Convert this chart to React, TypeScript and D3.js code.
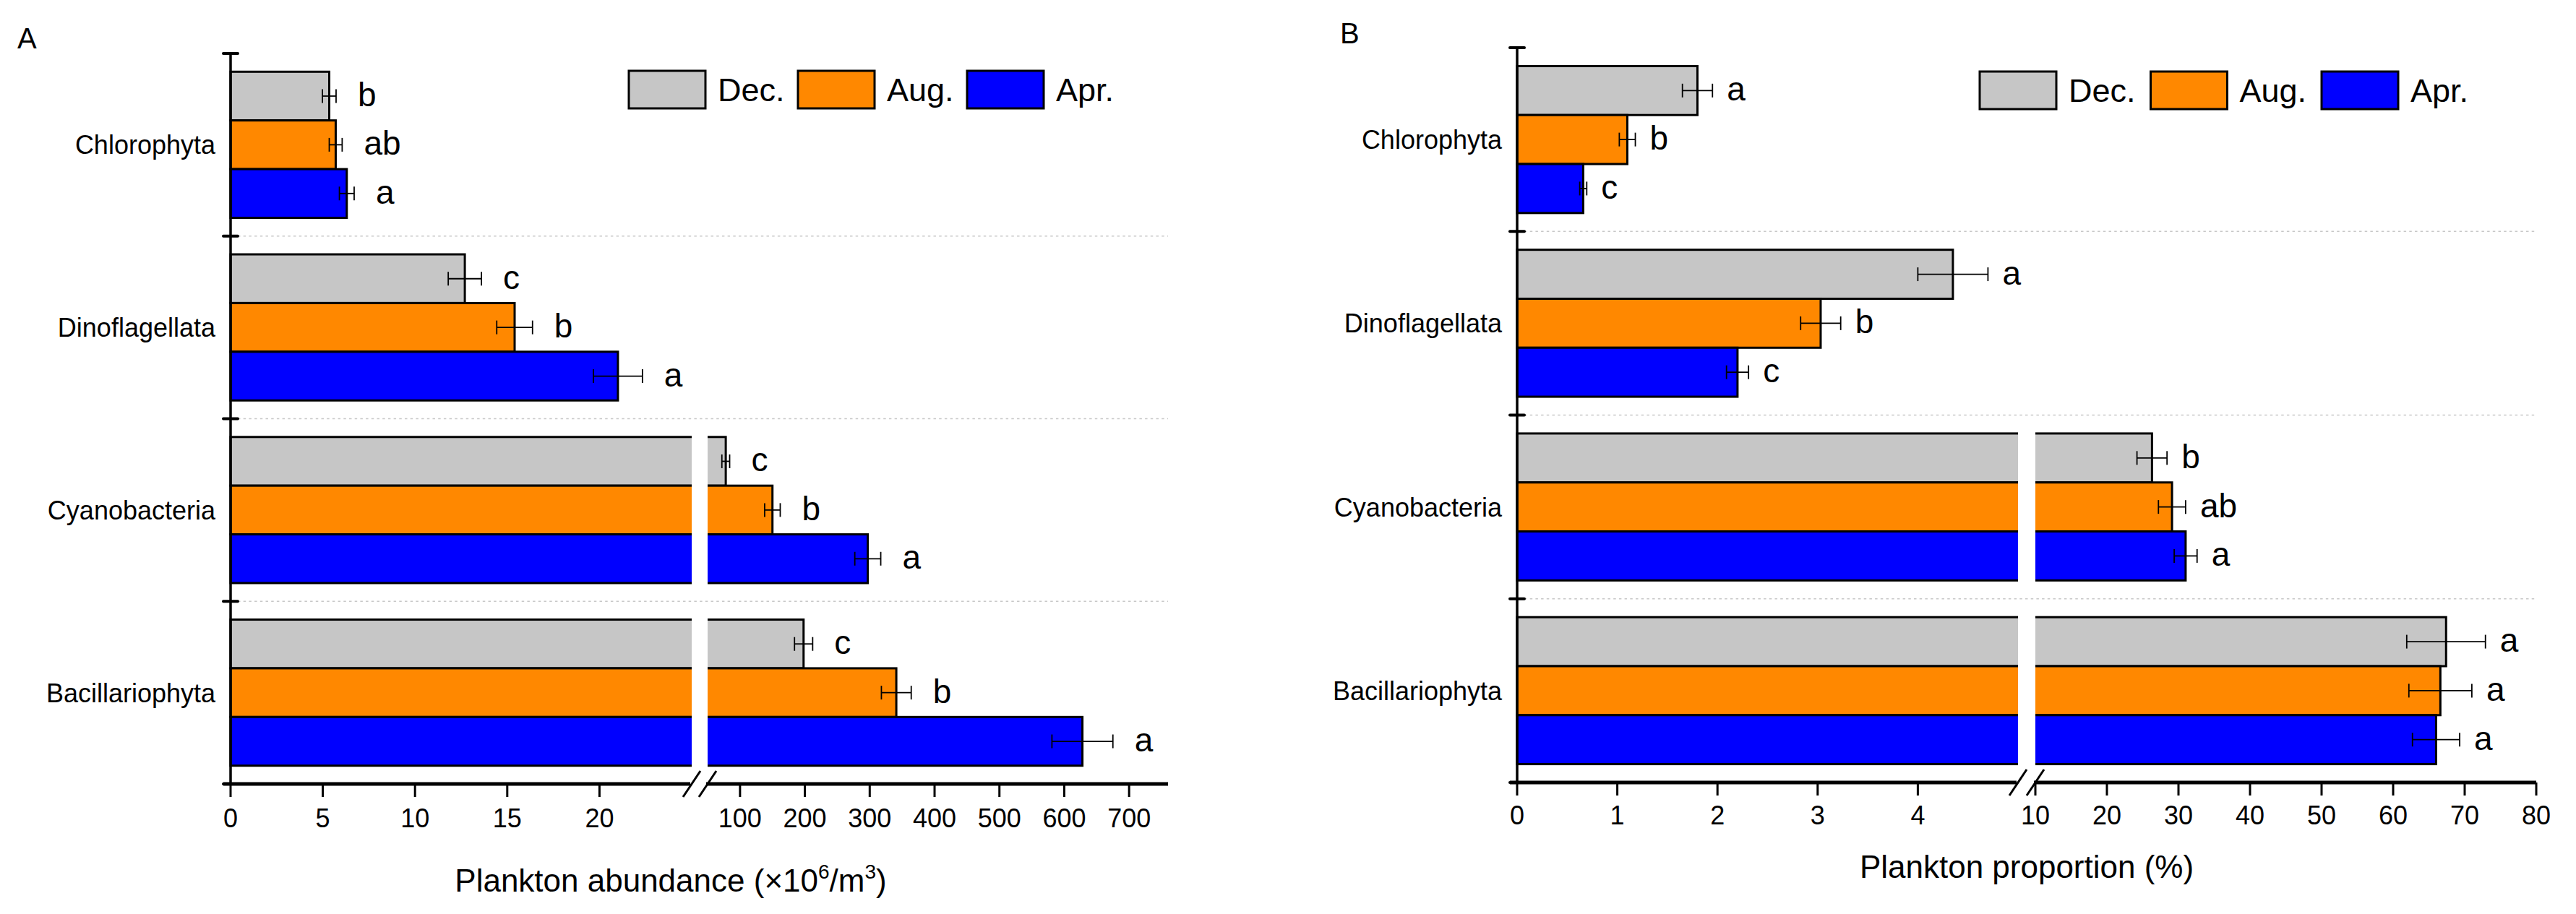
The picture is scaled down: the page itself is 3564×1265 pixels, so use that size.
import React, { useEffect } from 'react';
import * as d3 from 'd3';

// categories and seasons
const categories = ['Chlorophyta', 'Dinoflagellata', 'Cyanobacteria', 'Bacillariophyta'];
const seasons = ['Dec.', 'Aug.', 'Apr.'];
const seasonColors = ['#c6c6c6', '#ff8800', '#0000ff'];

// A: plankton abundance (x10^6/m3), one array per season over categories
const abundanceDec = [5.35, 12.7, 78, 198];
const abundanceAug = [5.7, 15.4, 150, 341];
const abundanceApr = [6.3, 21.0, 297, 628];
const abundanceErrDec = [0.37, 0.9, 6, 14];
const abundanceErrAug = [0.35, 0.97, 12, 23];
const abundanceErrApr = [0.4, 1.33, 20, 47];
const abundanceLetDec = ['b', 'c', 'c', 'c'];
const abundanceLetAug = ['ab', 'b', 'b', 'b'];
const abundanceLetApr = ['a', 'a', 'a', 'a'];
const abundanceTicks = [0, 5, 10, 15, 20, 100, 200, 300, 400, 500, 600, 700];

// B: plankton proportion (%)
const proportionDec = [1.8, 4.35, 26.3, 67.4];
const proportionAug = [1.1, 3.03, 29.1, 66.6];
const proportionApr = [0.66, 2.2, 31.0, 66.0];
const proportionErrDec = [0.15, 0.35, 2.1, 5.5];
const proportionErrAug = [0.08, 0.2, 1.9, 4.4];
const proportionErrApr = [0.035, 0.11, 1.6, 3.3];
const proportionLetDec = ['a', 'a', 'b', 'a'];
const proportionLetAug = ['b', 'b', 'ab', 'a'];
const proportionLetApr = ['c', 'c', 'a', 'a'];
const proportionTicks = [0, 1, 2, 3, 4, 10, 20, 30, 40, 50, 60, 70, 80];

const FONT = '"Liberation Sans", Arial, sans-serif';

interface PanelProps {
  label: string;
  labelX: number;
  labelY: number;
  values: number[][];
  errors: number[][];
  letters: string[][];
  ticks: number[];
  domain: number[];
  range: number[];
  top: number;
  bottom: number;
  letterGap: number;
  legendX: number;
  legendY: number;
  legendStep: number;
  tickBaseline: number;
  titleX: number;
  titleY: number;
  title: React.ReactNode;
}

const Panel: React.FC<PanelProps> = (p) => {
  const x = d3.scaleLinear().domain(p.domain).range(p.range);
  const axisX = p.range[0];
  const xEnd = p.range[3];
  const breakStart = p.range[1];
  const breakEnd = p.range[2];

  const y = d3.scaleBand<string>()
    .domain(categories)
    .range([p.top, p.bottom])
    .paddingInner(0.2)
    .paddingOuter(0.1);
  const step = y.step();
  const ySeason = d3.scaleBand<string>().domain(seasons).range([0, y.bandwidth()]);
  const bh = ySeason.bandwidth();

  const boundaries = d3.range(categories.length + 1).map(i => p.top + i * step);

  return (
    <g>
      <text x={p.labelX} y={p.labelY} fontSize={40} fontFamily={FONT}>{p.label}</text>

      {/* dotted dividers */}
      {boundaries.slice(1, -1).map((b, i) => (
        <line key={'d' + i} x1={axisX + 10} x2={xEnd} y1={b} y2={b}
          stroke="#c8c8c8" strokeWidth={1.5} strokeDasharray="3.5 4.2" />
      ))}

      {/* bars */}
      {categories.map((c, ci) => (
        <g key={c}>
          {seasons.map((s, si) => {
            const v = p.values[si][ci];
            const e = p.errors[si][ci];
            const by = (y(c) as number) + (ySeason(s) as number);
            const cy = by + bh / 2;
            const w = x(v) - axisX;
            return (
              <g key={s}>
                <rect x={axisX} y={by} width={w} height={bh}
                  fill={seasonColors[si]} stroke="#000" strokeWidth={3} />
                {v > p.domain[2] && (
                  <rect x={breakStart} y={by - 3} width={breakEnd - breakStart} height={bh + 6} fill="#fff" />
                )}
              </g>
            );
          })}
          {seasons.map((s, si) => {
            const v = p.values[si][ci];
            const e = p.errors[si][ci];
            const cy = (y(c) as number) + (ySeason(s) as number) + bh / 2;
            const x1 = x(v - e);
            const x2 = x(v + e);
            return (
              <g key={'e' + s}>
                <line x1={x1} x2={x2} y1={cy} y2={cy} stroke="#000" strokeWidth={1.8} />
                <line x1={x1} x2={x1} y1={cy - 9.5} y2={cy + 9.5} stroke="#000" strokeWidth={1.8} />
                <line x1={x2} x2={x2} y1={cy - 9.5} y2={cy + 9.5} stroke="#000" strokeWidth={1.8} />
                <text x={x2 + p.letterGap} y={cy + 14} fontSize={46} fontFamily={FONT}>
                  {p.letters[si][ci]}
                </text>
              </g>
            );
          })}
          <text x={axisX - 21} y={(y(c) as number) + y.bandwidth() / 2 + 13}
            textAnchor="end" fontSize={36} fontFamily={FONT}>{c}</text>
        </g>
      ))}

      {/* y axis */}
      <line x1={axisX} x2={axisX} y1={p.top} y2={p.bottom} stroke="#000" strokeWidth={3.5} />
      {boundaries.map((b, i) => (
        <line key={'yt' + i} x1={axisX - 10} x2={axisX + 10} y1={b} y2={b}
          stroke="#000" strokeWidth={4} strokeLinecap="round" />
      ))}

      {/* x axis with break */}
      <line x1={axisX - 10} x2={breakStart - 2} y1={p.bottom} y2={p.bottom} stroke="#000" strokeWidth={5} />
      <line x1={breakEnd - 2} x2={xEnd} y1={p.bottom} y2={p.bottom} stroke="#000" strokeWidth={5} />
      {[breakStart, breakEnd].map((bx, i) => (
        <line key={'br' + i} x1={bx - 12} x2={bx + 12} y1={p.bottom + 18} y2={p.bottom - 18}
          stroke="#000" strokeWidth={3} />
      ))}
      {p.ticks.map(t => (
        <g key={'xt' + t}>
          <line x1={x(t)} x2={x(t)} y1={p.bottom} y2={p.bottom + 18} stroke="#000" strokeWidth={3} />
          <text x={x(t)} y={p.tickBaseline} textAnchor="middle" fontSize={36} fontFamily={FONT}>{t}</text>
        </g>
      ))}

      {/* legend */}
      {seasons.map((s, si) => (
        <g key={'lg' + s}>
          <rect x={p.legendX + si * p.legendStep} y={p.legendY} width={106} height={52}
            fill={seasonColors[si]} stroke="#000" strokeWidth={3} />
          <text x={p.legendX + si * p.legendStep + 123} y={p.legendY + 42}
            fontSize={45} fontFamily={FONT}>{s}</text>
        </g>
      ))}

      <text x={p.titleX} y={p.titleY} textAnchor="middle" fontSize={44} fontFamily={FONT}>{p.title}</text>
    </g>
  );
};

const App: React.FC = () => {
  useEffect(() => {
    document.body.style.margin = '0';
  }, []);

  return (
    <svg width={3564} height={1265} viewBox="0 0 3564 1265" style={{ display: 'block', background: '#fff' }}>
      <Panel
        label="A" labelX={24} labelY={67}
        values={[abundanceDec, abundanceAug, abundanceApr]}
        errors={[abundanceErrDec, abundanceErrAug, abundanceErrApr]}
        letters={[abundanceLetDec, abundanceLetAug, abundanceLetApr]}
        ticks={abundanceTicks}
        domain={[0, 25, 50, 760]} range={[319, 957, 979, 1616]}
        top={74} bottom={1085} letterGap={30}
        legendX={870} legendY={98} legendStep={234}
        tickBaseline={1145} titleX={928} titleY={1234}
        title={<>
          Plankton abundance (×10<tspan dy={-18} fontSize={28}>6</tspan>
          <tspan dy={18}>/m</tspan><tspan dy={-18} fontSize={28}>3</tspan><tspan dy={18}>)</tspan>
        </>}
      />
      <Panel
        label="B" labelX={1854} labelY={60}
        values={[proportionDec, proportionAug, proportionApr]}
        errors={[proportionErrDec, proportionErrAug, proportionErrApr]}
        letters={[proportionLetDec, proportionLetAug, proportionLetApr]}
        ticks={proportionTicks}
        domain={[0, 5, 10, 80]} range={[2099, 2792, 2816, 3509]}
        top={66} bottom={1083} letterGap={20}
        legendX={2739} legendY={99} legendStep={236.5}
        tickBaseline={1141} titleX={2804} titleY={1215}
        title="Plankton proportion (%)"
      />
    </svg>
  );
};

export default App;
